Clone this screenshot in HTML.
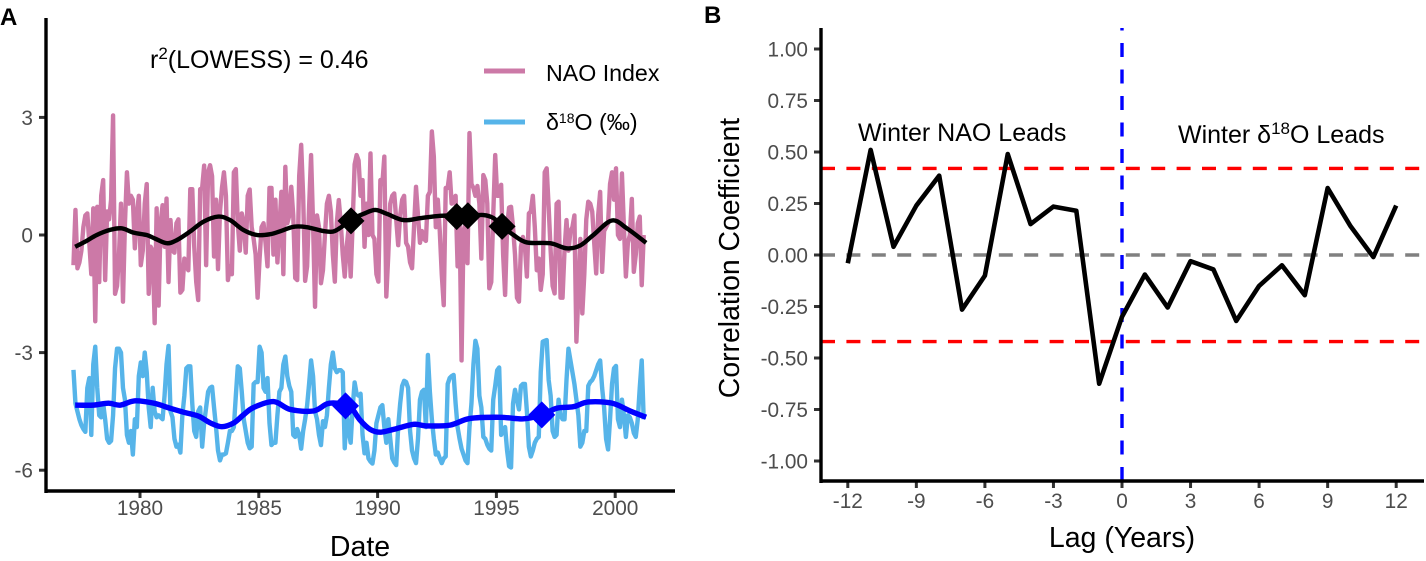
<!DOCTYPE html>
<html lang="en">
<head>
<meta charset="utf-8">
<title>NAO Index and δ18O time series with lag correlation</title>
<style>
html,body{margin:0;padding:0;background:#fff;}
svg{display:block;font-family:"Liberation Sans",Arial,sans-serif;}
</style>
</head>
<body>
<svg id="chart" xmlns="http://www.w3.org/2000/svg" width="1426" height="561" viewBox="0 0 1426 561">
  <rect width="1426" height="561" fill="#ffffff"/>
  <text x="0" y="25" font-size="24" font-weight="bold" fill="#000">A</text>
  <text x="704" y="23" font-size="24" font-weight="bold" fill="#000">B</text>
  <g id="panelA"></g>
  <g id="panelB"></g>
  <line x1="46" y1="18" x2="46" y2="493" stroke="#000" stroke-width="3.4"/>
  <line x1="45" y1="491" x2="675" y2="491" stroke="#000" stroke-width="3.4"/>
  <line x1="821" y1="28" x2="821" y2="483" stroke="#000" stroke-width="3.4"/>
  <line x1="820" y1="481" x2="1424" y2="481" stroke="#000" stroke-width="3.4"/>
  <text x="150" y="68" font-size="25" fill="#000">r<tspan font-size="17" dy="-9">2</tspan><tspan dy="9">(LOWESS) = 0.46</tspan></text>
  <line x1="484" y1="71" x2="525" y2="71" stroke="#CC79A7" stroke-width="5"/>
  <text x="546" y="81" font-size="23.2" fill="#000">NAO Index</text>
  <line x1="484" y1="122" x2="525" y2="122" stroke="#56B4E9" stroke-width="5"/>
  <text x="546" y="130" font-size="23.2" fill="#000">δ<tspan font-size="14" dy="-7">18</tspan><tspan dy="7">O (‰)</tspan></text>
  <text x="360" y="556" font-size="28.5" text-anchor="middle" fill="#000">Date</text>
  <text x="1122" y="547" font-size="28.5" text-anchor="middle" fill="#000">Lag (Years)</text>
  <text transform="translate(739,258) rotate(-90)" font-size="28.4" text-anchor="middle" fill="#000">Correlation Coefficient</text>
  <text x="858" y="141" font-size="25" fill="#000">Winter NAO Leads</text>
  <text x="1178" y="143" font-size="25" fill="#000">Winter δ<tspan font-size="17" dy="-9">18</tspan><tspan dy="9">O Leads</tspan></text>
</svg>
<script>
// Panel A data
const startYear = 1977.2;
const monthsPerYear = 12;
const naoValues = [
-0.77,0.64,-0.85,-0.7,-0.4,0.2,0.5,0.55,-0.2,-1.0,0.68,-2.2,0.72,-1.2,1.0,1.4,-1.15,0.6,0.4,0.9,
3.05,-1.5,-1.3,-0.5,0.8,-1.7,0.3,1.6,0.8,1.0,0.9,-0.34,0.5,1.0,-0.77,-0.4,0.8,1.3,-1.5,-0.3,
-0.4,-2.25,0.68,-1.8,0.3,0.76,-0.3,0.93,-1.2,0.38,-0.4,-0.45,0.3,0.4,-1.47,-1.4,-0.6,-0.8,-0.9,1.17,
1.17,-0.3,-1.2,-1.66,1.17,1.2,1.77,-0.77,1.6,1.78,1.5,-0.55,0.9,-0.87,0.6,1.2,1.6,1.0,-1.15,-0.8,
-1.0,1.6,1.68,0.3,-0.4,0.55,0.3,-0.45,1.0,1.16,0.2,-0.1,-0.5,-1.6,-0.6,0.2,0.3,-0.2,-0.8,1.2,
1.2,-0.5,0.9,-0.7,0.2,1.1,-1.0,1.74,0.3,0.5,1.23,0.5,-1.1,-1.15,1.5,2.3,1.0,-1.17,-0.8,0.7,
2.04,0.3,-1.83,0.5,0.2,-1.23,-0.9,0.0,0.8,1.0,0.6,-0.5,-1.19,0.3,0.89,0.3,-0.5,-1.06,-0.3,0.2,
-1.06,0.3,1.8,2.04,1.9,1.0,1.4,-0.3,0.8,0.0,2.08,0.0,-0.1,-1.0,-1.19,1.4,1.3,2.0,-1.57,-0.5,
0.8,1.0,1.06,0.4,-0.26,0.5,0.9,1.0,-0.2,-0.3,-0.7,-0.85,0.2,1.23,0.5,-0.2,0.1,-0.1,-0.15,1.0,
1.1,2.64,2.0,0.2,0.9,0.1,-1.0,-1.79,1.2,1.2,1.6,0.8,0.9,1.0,-0.8,0.4,-3.2,0.1,0.3,-0.72,
2.6,1.3,1.2,1.0,1.25,0.8,-0.6,1.53,1.4,0.8,-1.36,-1.2,0.5,2.04,1.0,1.0,1.28,-0.5,-1.53,0.2,
0.7,0.72,0.2,-0.5,-1.6,-1.7,-0.3,-0.05,-0.3,-1.06,0.55,0.6,1.0,0.2,-0.9,-0.6,-1.4,-1.0,1.6,1.7,
0.7,-0.4,-1.3,-1.49,0.8,0.85,-1.6,-1.6,-0.4,0.38,-0.4,0.1,0.2,0.5,-2.72,-1.5,-0.1,-2.0,-1.0,0.4,
0.85,0.8,0.6,-0.2,-0.98,0.5,1.1,-0.94,0.1,0.2,0.3,1.3,1.6,0.9,1.7,0.0,-0.1,1.57,0.2,-1.06,
-0.2,0.0,0.92,-0.94,-0.5,0.3,0.47,-1.28,0.0
];
const d18oValues = [
-3.44,-4.3,-4.5,-4.7,-4.85,-4.95,-5.02,-3.9,-3.65,-5.1,-3.3,-2.85,-3.9,-4.6,-4.65,-4.3,-4.7,-5.2,-5.3,-5.25,
-4.6,-3.4,-2.9,-2.9,-3.0,-3.9,-4.2,-5.1,-5.3,-5.0,-5.6,-4.7,-4.9,-3.6,-3.25,-3.6,-3.0,-3.5,-4.4,-4.9,
-3.9,-4.5,-4.65,-4.6,-4.65,-4.7,-4.1,-3.3,-2.83,-4.5,-4.65,-5.2,-5.4,-5.35,-5.55,-4.6,-4.1,-3.4,-3.35,-3.35,
-4.3,-5.0,-5.15,-4.5,-4.4,-5.4,-4.8,-4.4,-4.0,-3.9,-3.87,-4.4,-4.9,-5.5,-5.75,-5.6,-5.6,-5.57,-5.3,-5.0,
-5.0,-4.9,-4.1,-3.35,-3.4,-4.0,-4.7,-5.0,-5.3,-5.44,-5.4,-3.8,-3.75,-3.75,-2.85,-3.0,-3.9,-4.0,-3.65,-4.8,
-5.36,-5.3,-5.3,-4.6,-4.0,-3.9,-3.3,-3.1,-3.6,-3.85,-4.0,-5.1,-5.15,-4.95,-5.1,-5.45,-5.0,-4.7,-4.35,-3.8,
-3.2,-3.6,-4.5,-4.7,-5.1,-5.36,-4.75,-4.9,-4.6,-3.9,-3.3,-3.0,-3.4,-3.5,-3.45,-3.45,-3.5,-5.44,-4.5,-5.0,
-5.3,-4.4,-3.76,-4.05,-4.1,-4.05,-5.1,-5.57,-5.3,-5.7,-5.78,-5.83,-5.5,-4.8,-4.6,-4.4,-4.34,-4.9,-5.3,-4.7,
-5.2,-5.7,-5.8,-5.87,-4.9,-4.3,-3.85,-3.72,-3.75,-3.9,-5.0,-5.5,-5.7,-5.82,-5.2,-4.2,-4.0,-3.95,-4.9,-3.06,
-4.0,-4.7,-5.2,-5.6,-5.55,-5.7,-5.82,-5.7,-5.65,-3.8,-3.65,-3.6,-3.57,-4.3,-4.9,-5.2,-5.45,-5.6,-5.75,-5.82,
-4.9,-4.3,-3.3,-2.7,-2.9,-4.1,-4.4,-5.15,-5.2,-5.35,-5.45,-5.5,-4.2,-3.85,-3.45,-3.38,-5.1,-5.0,-4.9,-5.5,
-5.9,-5.93,-4.3,-3.95,-4.2,-4.45,-3.85,-3.8,-3.8,-4.5,-5.4,-5.65,-5.5,-5.3,-5.2,-5.15,-3.5,-2.72,-2.7,-2.68,
-3.7,-4.1,-5.0,-5.15,-5.1,-4.2,-4.6,-4.7,-4.7,-3.7,-2.9,-3.2,-3.5,-3.8,-4.2,-4.6,-5.4,-5.3,-5.0,-5.0,
-3.85,-3.75,-3.7,-3.6,-3.45,-3.3,-3.2,-3.9,-4.4,-5.2,-5.47,-4.7,-3.8,-3.4,-3.34,-4.7,-4.9,-4.2,-4.6,-5.15,
-4.6,-4.65,-4.8,-5.05,-5.15,-4.7,-3.9,-3.2,-4.7
];
const naoLowessYears = [1977.27,1977.69,1978.18,1978.74,1979.23,1979.73,1980.28,1980.63,1981.13,1981.55,1982.11,1982.67,1983.30,1983.79,1984.35,1984.92,1985.48,1985.97,1986.46,1987.02,1987.72,1988.14,1988.49,1988.84,1989.41,1989.90,1990.39,1991.09,1991.79,1992.63,1993.33,1993.82,1994.46,1994.88,1995.27,1995.72,1996.28,1997.26,1997.96,1998.52,1999.08,1999.86,2000.49,2001.30];
const naoLowessValues = [-0.30,-0.17,0,0.13,0.17,0.06,0,-0.09,-0.21,-0.13,0.09,0.34,0.47,0.38,0.13,0,0.02,0.11,0.21,0.20,0.10,0.09,0.21,0.38,0.54,0.64,0.54,0.38,0.43,0.49,0.49,0.49,0.51,0.43,0.21,0,-0.19,-0.21,-0.34,-0.27,0,0.37,0.17,-0.20];
const d18oLowessYears = [1977.27,1978.04,1978.67,1979.16,1979.79,1980.57,1981.27,1981.83,1982.46,1982.95,1983.44,1983.93,1984.35,1984.78,1985.62,1986.32,1987.30,1987.86,1988.28,1988.84,1989.26,1989.69,1990.11,1990.67,1991.51,1992.07,1993.05,1993.89,1995.16,1996.14,1996.91,1997.54,1998.24,1998.87,1999.86,2000.63,2001.30];
const d18oLowessValues = [-4.34,-4.34,-4.29,-4.34,-4.23,-4.29,-4.42,-4.52,-4.62,-4.79,-4.89,-4.80,-4.59,-4.40,-4.25,-4.45,-4.49,-4.31,-4.29,-4.38,-4.72,-4.96,-5.03,-4.96,-4.83,-4.87,-4.85,-4.68,-4.65,-4.69,-4.59,-4.42,-4.38,-4.26,-4.29,-4.49,-4.65];
const naoChangeYears = [1988.88,1993.33,1993.80,1995.24];
const naoChangeValues = [0.36,0.47,0.49,0.22];
const d18oChangeYears = [1988.65,1996.91];
const d18oChangeValues = [-4.36,-4.59];
const panelAXTicks = [1980,1985,1990,1995,2000];
const panelAYTicks = [3,0,-3,-6];

// Panel B data
const lags = [-12,-11,-10,-9,-8,-7,-6,-5,-4,-3,-2,-1,0,1,2,3,4,5,6,7,8,9,10,11,12];
const correlations = [-0.04,0.51,0.04,0.24,0.385,-0.265,-0.1,0.49,0.15,0.235,0.215,-0.625,-0.3,-0.095,-0.255,-0.03,-0.07,-0.32,-0.15,-0.05,-0.195,0.325,0.14,-0.01,0.24];
const significanceLevels = [0.42,-0.42];
const panelBXTicks = [-12,-9,-6,-3,0,3,6,9,12];
const panelBYTicks = [1,0.75,0.5,0.25,0,-0.25,-0.5,-0.75,-1];

const NS = 'http://www.w3.org/2000/svg';
const xA = y => 140 + (y - 1980) * 23.76;
const yA = v => 235 - v * 39.2;
const xB = l => 1122 + l * 22.85;
const yB = v => 255 - v * 206;
const panelA = document.getElementById('panelA');
const panelB = document.getElementById('panelB');

function mk(parent, tag, attrs, text) {
  const el = document.createElementNS(NS, tag);
  for (const k in attrs) el.setAttribute(k, attrs[k]);
  if (text !== undefined) el.textContent = text;
  parent.appendChild(el);
  return el;
}
function poly(parent, xs, ys, color, width) {
  const pts = xs.map((x, i) => x.toFixed(2) + ',' + ys[i].toFixed(2)).join(' ');
  return mk(parent, 'polyline', {points: pts, fill: 'none', stroke: color, 'stroke-width': width, 'stroke-linejoin': 'round', 'stroke-linecap': 'butt'});
}
function smooth(parent, xs, ys, color, width) {
  let d = 'M' + xs[0].toFixed(2) + ' ' + ys[0].toFixed(2);
  for (let i = 0; i < xs.length - 1; i++) {
    const a = Math.max(i - 1, 0), b = Math.min(i + 2, xs.length - 1);
    d += ' C' + (xs[i] + (xs[i + 1] - xs[a]) / 6).toFixed(2) + ' ' + (ys[i] + (ys[i + 1] - ys[a]) / 6).toFixed(2) + ' ' +
         (xs[i + 1] - (xs[b] - xs[i]) / 6).toFixed(2) + ' ' + (ys[i + 1] - (ys[b] - ys[i]) / 6).toFixed(2) + ' ' +
         xs[i + 1].toFixed(2) + ' ' + ys[i + 1].toFixed(2);
  }
  return mk(parent, 'path', {d: d, fill: 'none', stroke: color, 'stroke-width': width, 'stroke-linejoin': 'round'});
}
function diamond(parent, cx, cy, color) {
  const r = 13.5;
  return mk(parent, 'polygon', {points: [cx, cy - r, cx + r, cy, cx, cy + r, cx - r, cy].join(' '), fill: color});
}
const monthYear = i => startYear + i / monthsPerYear;

// Panel A ticks
panelAXTicks.forEach(t => {
  const tick = mk(panelA, 'line', {x1: xA(t), x2: xA(t), y1: 491, y2: 498, stroke: '#333', 'stroke-width': 3});
  
  
  const lab = mk(panelA, 'text', {x: xA(t), y: 515, 'font-size': 20.8, 'text-anchor': 'middle', fill: '#4d4d4d'}, String(t));
  
  
});
panelAYTicks.forEach(t => {
  const tick = mk(panelA, 'line', {x1: 39, x2: 46, y1: yA(t), y2: yA(t), stroke: '#333', 'stroke-width': 3});
  
  
  const lab = mk(panelA, 'text', {x: 33, y: yA(t) + 7.5, 'font-size': 20.8, 'text-anchor': 'end', fill: '#4d4d4d'}, String(t));
  
  
});

// Panel A series
const naoLine = poly(panelA, naoValues.map((_, i) => xA(monthYear(i))), naoValues.map(yA), '#CC79A7', 4.4);


const d18oLine = poly(panelA, d18oValues.map((_, i) => xA(monthYear(i))), d18oValues.map(yA), '#56B4E9', 4.4);


const naoLowess = smooth(panelA, naoLowessYears.map(xA), naoLowessValues.map(yA), '#000', 4.4);


const d18oLowess = smooth(panelA, d18oLowessYears.map(xA), d18oLowessValues.map(yA), '#0000ff', 5.4);


naoChangeYears.forEach((y, i) => {
  const m = diamond(panelA, xA(y), yA(naoChangeValues[i]), '#000');
  
  
});
d18oChangeYears.forEach((y, i) => {
  const m = diamond(panelA, xA(y), yA(d18oChangeValues[i]), '#0000ff');
  
  
});

// Panel B ticks
panelBXTicks.forEach(t => {
  const tick = mk(panelB, 'line', {x1: xB(t), x2: xB(t), y1: 481, y2: 488, stroke: '#333', 'stroke-width': 3});
  
  
  const lab = mk(panelB, 'text', {x: xB(t), y: 508, 'font-size': 20.8, 'text-anchor': 'middle', fill: '#4d4d4d'}, String(t));
  
  
});
panelBYTicks.forEach(t => {
  const tick = mk(panelB, 'line', {x1: 814, x2: 821, y1: yB(t), y2: yB(t), stroke: '#333', 'stroke-width': 3});
  
  
  const lab = mk(panelB, 'text', {x: 808, y: yB(t) + 7.5, 'font-size': 20.8, 'text-anchor': 'end', fill: '#4d4d4d'}, t.toFixed(2));
  
  
});

// Panel B reference lines
const zeroLine = mk(panelB, 'line', {x1: 821, x2: 1424, y1: yB(0), y2: yB(0), stroke: '#808080', 'stroke-width': 3.4, 'stroke-dasharray': '14 11.4'});


significanceLevels.forEach(v => {
  const sig = mk(panelB, 'line', {x1: 821, x2: 1424, y1: yB(v), y2: yB(v), stroke: '#ff0000', 'stroke-width': 3.4, 'stroke-dasharray': '14 11.4'});
  
  
});
const lagZero = mk(panelB, 'line', {x1: xB(0), x2: xB(0), y1: 481, y2: 28, stroke: '#0000ff', 'stroke-width': 3.4, 'stroke-dasharray': '14 12.5'});


const corrLine = poly(panelB, lags.map(xB), correlations.map(yB), '#000', 4.6);


</script>
</body>
</html>
